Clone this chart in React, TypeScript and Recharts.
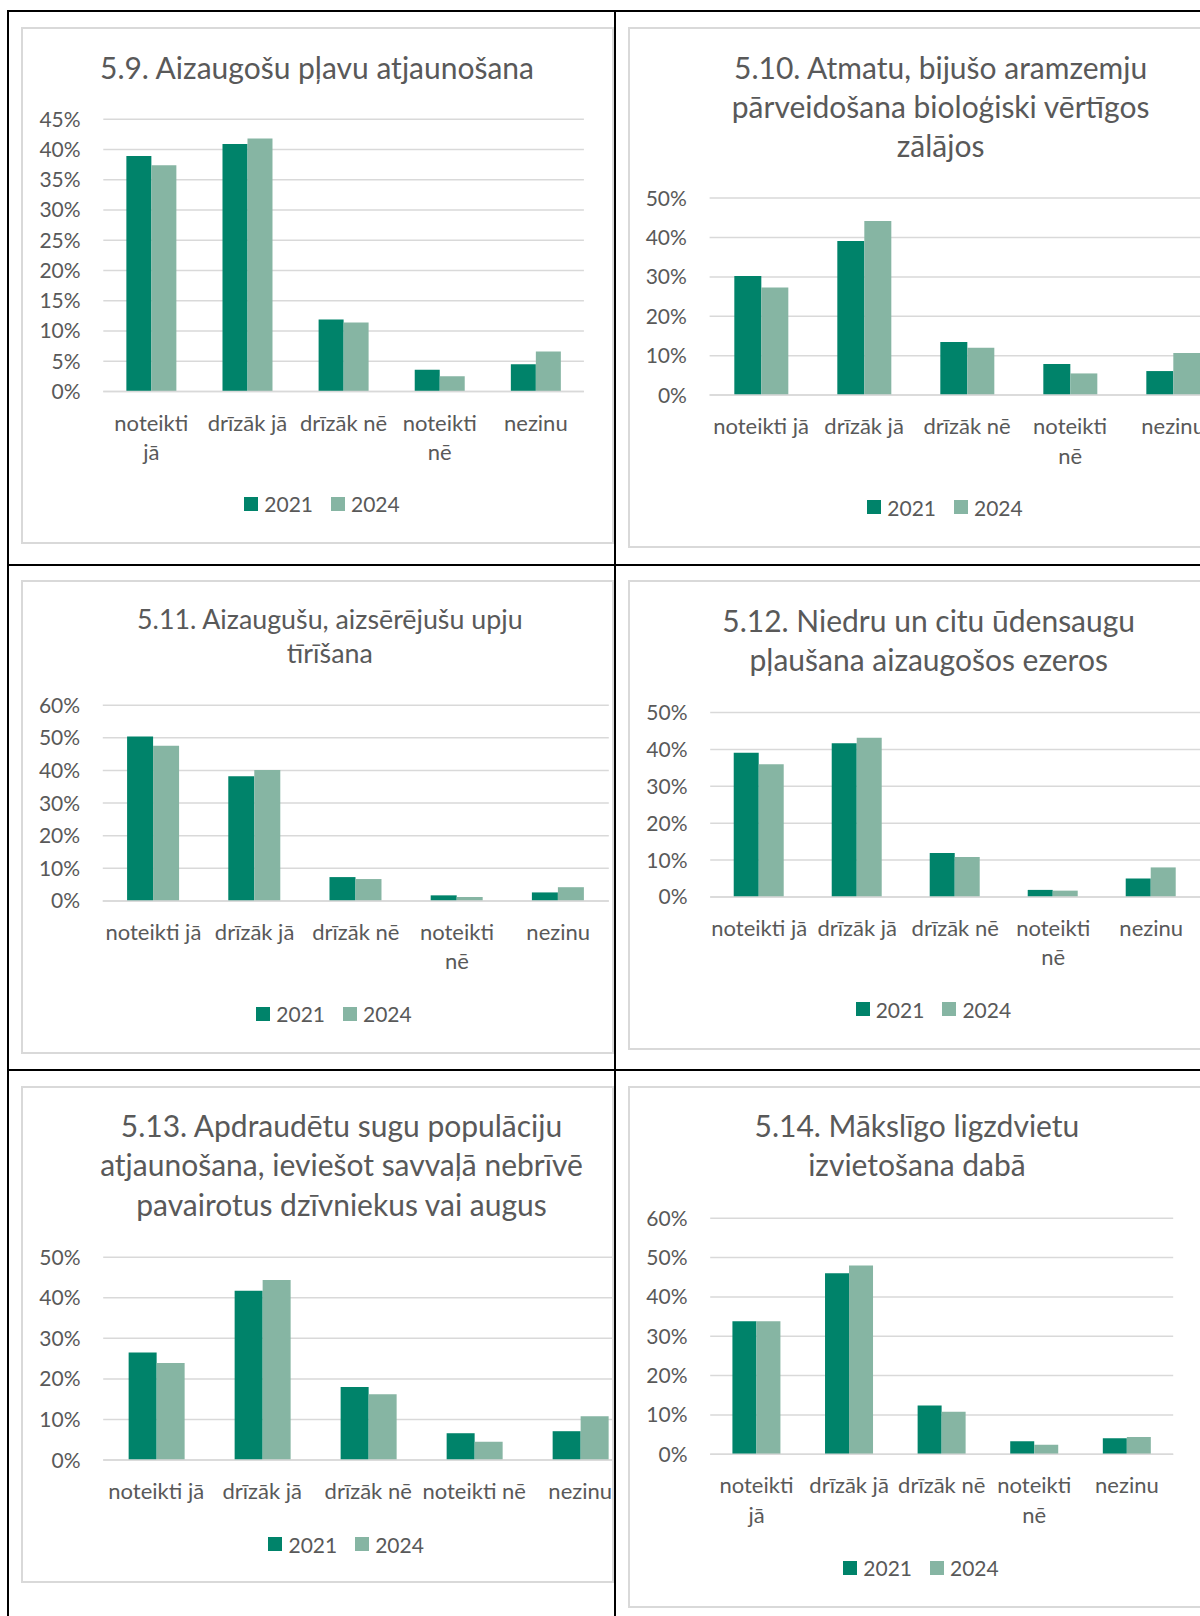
import React from 'react';
import { BarChart, Bar, XAxis, YAxis, CartesianGrid, Legend } from 'recharts';

const FONT = 'Lato, "Open Sans", sans-serif';
const TEXT = '#595959';
const C2021 = '#00836A';
const C2024 = '#86B5A3';
const GRID = '#D9D9D9';

// ---------- data ----------
const categories = ['noteikti jā', 'drīzāk jā', 'drīzāk nē', 'noteikti nē', 'nezinu'];
const seriesNames = ['2021', '2024'];

const title59 = ['5.9. Aizaugošu pļavu atjaunošana'];
const labels59 = [['noteikti', 'jā'], ['drīzāk jā'], ['drīzāk nē'], ['noteikti', 'nē'], ['nezinu']];
const v2021_59 = [38.9, 40.9, 11.9, 3.6, 4.5];
const v2024_59 = [37.4, 41.8, 11.4, 2.5, 6.6];
const ticks59 = [0, 5, 10, 15, 20, 25, 30, 35, 40, 45];

const title510 = ['5.10. Atmatu, bijušo aramzemju', 'pārveidošana bioloģiski vērtīgos', 'zālājos'];
const labels510 = [['noteikti jā'], ['drīzāk jā'], ['drīzāk nē'], ['noteikti', 'nē'], ['nezinu']];
const v2021_510 = [30.2, 39.1, 13.5, 7.9, 6.1];
const v2024_510 = [27.3, 44.2, 12.0, 5.5, 10.7];
const ticks510 = [0, 10, 20, 30, 40, 50];

const title511 = ['5.11. Aizaugušu, aizsērējušu upju', 'tīrīšana'];
const labels511 = [['noteikti jā'], ['drīzāk jā'], ['drīzāk nē'], ['noteikti', 'nē'], ['nezinu']];
const v2021_511 = [50.4, 38.2, 7.3, 1.7, 2.6];
const v2024_511 = [47.6, 40.1, 6.7, 1.2, 4.2];
const ticks511 = [0, 10, 20, 30, 40, 50, 60];

const title512 = ['5.12. Niedru un citu ūdensaugu', 'pļaušana aizaugošos ezeros'];
const labels512 = [['noteikti jā'], ['drīzāk jā'], ['drīzāk nē'], ['noteikti', 'nē'], ['nezinu']];
const v2021_512 = [39.1, 41.7, 11.9, 1.9, 5.0];
const v2024_512 = [36.0, 43.2, 10.8, 1.7, 8.0];
const ticks512 = [0, 10, 20, 30, 40, 50];

const title513 = ['5.13. Apdraudētu sugu populāciju', 'atjaunošana, ieviešot savvaļā nebrīvē', 'pavairotus dzīvniekus vai augus'];
const labels513 = [['noteikti jā'], ['drīzāk jā'], ['drīzāk nē'], ['noteikti nē'], ['nezinu']];
const v2021_513 = [26.5, 41.7, 18.0, 6.6, 7.1];
const v2024_513 = [23.9, 44.4, 16.2, 4.5, 10.8];
const ticks513 = [0, 10, 20, 30, 40, 50];

const title514 = ['5.14. Mākslīgo ligzdvietu', 'izvietošana dabā'];
const labels514 = [['noteikti', 'jā'], ['drīzāk jā'], ['drīzāk nē'], ['noteikti', 'nē'], ['nezinu']];
const v2021_514 = [33.8, 46.0, 12.4, 3.3, 4.1];
const v2024_514 = [33.8, 48.0, 10.8, 2.4, 4.4];
const ticks514 = [0, 10, 20, 30, 40, 50, 60];

const buildRows = (a: number[], b: number[]) =>
  categories.map((c, i) => ({ cat: c, y2021: a[i], y2024: b[i] }));

// ---------- layout (page coordinates) ----------
type Rect = { x: number; y: number; w: number; h: number };
type PanelCfg = {
  cell: Rect;
  frame: Rect;
  chart: Rect;
  plot: { l: number; r: number; t: number; b: number };
  titleCx: number;
  titleY: number;
  titleSize: number;
  titleLH: number;
  legendCx: number;
  legendCy: number;
  title: string[];
  labels: string[][];
  a: number[];
  b: number[];
  ticks: number[];
};

const TICK_SIZE = 21;
const CAT_SIZE = 22;
const LEG_SIZE = 21;

const panels: PanelCfg[] = [
  {
    cell: { x: 9, y: 12, w: 605, h: 552 },
    frame: { x: 21, y: 27, w: 593, h: 517 },
    chart: { x: 22, y: 28, w: 592, h: 516 },
    plot: { l: 103.3, r: 583.9, t: 119.2, b: 391.5 },
    titleCx: 317, titleY: 67, titleSize: 30, titleLH: 39,
    legendCx: 322, legendCy: 503.5,
    title: title59, labels: labels59, a: v2021_59, b: v2024_59, ticks: ticks59,
  },
  {
    cell: { x: 616, y: 12, w: 584, h: 552 },
    frame: { x: 628, y: 27, w: 640, h: 521 },
    chart: { x: 629, y: 28, w: 640, h: 520 },
    plot: { l: 709.6, r: 1224.6, t: 198.1, b: 395.1 },
    titleCx: 940.6, titleY: 67, titleSize: 30, titleLH: 39,
    legendCx: 945, legendCy: 507.2,
    title: title510, labels: labels510, a: v2021_510, b: v2024_510, ticks: ticks510,
  },
  {
    cell: { x: 9, y: 566, w: 605, h: 503 },
    frame: { x: 21, y: 580, w: 593, h: 474 },
    chart: { x: 22, y: 581, w: 592, h: 473 },
    plot: { l: 102.8, r: 608.8, t: 705.2, b: 900.9 },
    titleCx: 329.8, titleY: 620, titleSize: 26.8, titleLH: 33.8,
    legendCx: 334, legendCy: 1013.8,
    title: title511, labels: labels511, a: v2021_511, b: v2024_511, ticks: ticks511,
  },
  {
    cell: { x: 616, y: 566, w: 584, h: 503 },
    frame: { x: 628, y: 580, w: 640, h: 470 },
    chart: { x: 629, y: 581, w: 620, h: 469 },
    plot: { l: 710.2, r: 1200.2, t: 712.6, b: 896.9 },
    titleCx: 928.7, titleY: 620.7, titleSize: 30, titleLH: 39,
    legendCx: 933.4, legendCy: 1009.4,
    title: title512, labels: labels512, a: v2021_512, b: v2024_512, ticks: ticks512,
  },
  {
    cell: { x: 9, y: 1071, w: 605, h: 545 },
    frame: { x: 21, y: 1086, w: 593, h: 497 },
    chart: { x: 22, y: 1087, w: 640, h: 495 },
    plot: { l: 103.2, r: 633.2, t: 1257.2, b: 1460 },
    titleCx: 341.5, titleY: 1125.4, titleSize: 30, titleLH: 39.4,
    legendCx: 346.2, legendCy: 1544.1,
    title: title513, labels: labels513, a: v2021_513, b: v2024_513, ticks: ticks513,
  },
  {
    cell: { x: 616, y: 1071, w: 584, h: 545 },
    frame: { x: 628, y: 1086, w: 640, h: 522 },
    chart: { x: 629, y: 1087, w: 600, h: 520 },
    plot: { l: 710.2, r: 1173.2, t: 1218.2, b: 1454.3 },
    titleCx: 916.9, titleY: 1125.4, titleSize: 30, titleLH: 39.4,
    legendCx: 921, legendCy: 1567.9,
    title: title514, labels: labels514, a: v2021_514, b: v2024_514, ticks: ticks514,
  },
];

const X_AXIS_H = 60;

const makeXTick = (labels: string[][]) => (props: any) => {
  const { x, y, index } = props;
  const lines = labels[index] || [String(props.payload?.value ?? '')];
  return (
    <text x={x} y={y} textAnchor="middle" fill={TEXT} fontFamily={FONT} fontSize={CAT_SIZE} dominantBaseline="central">
      {lines.map((l, i) => (
        <tspan key={i} x={x} dy={i === 0 ? 30 : 29.5}>
          {l}
        </tspan>
      ))}
    </text>
  );
};

const YTick = (props: any) => (
  <text x={props.x} y={props.y - 1} textAnchor="end" fill={TEXT} fontFamily={FONT} fontSize={TICK_SIZE} dominantBaseline="central">
    {`${props.payload.value}%`}
  </text>
);

const LegendContent = (props: any) => {
  const items = (props.payload && props.payload.length
    ? props.payload.map((p: any) => ({ value: p.value, color: p.color }))
    : seriesNames.map((n, i) => ({ value: n, color: i === 0 ? C2021 : C2024 })));
  return (
    <div style={{ display: 'flex', justifyContent: 'center', alignItems: 'center', height: 30, fontFamily: FONT, fontSize: LEG_SIZE, color: TEXT }}>
      {items.map((it: any, i: number) => (
        <div key={it.value} style={{ display: 'flex', alignItems: 'center', marginLeft: i ? 18 : 0 }}>
          <span style={{ display: 'inline-block', width: 14, height: 14, background: it.color, marginRight: 6 }} />
          <span>{it.value}</span>
        </div>
      ))}
    </div>
  );
};

const Panel = ({ p }: { p: PanelCfg }) => {
  const { cell, frame, chart, plot } = p;
  const rows = buildRows(p.a, p.b);
  const yAxisW = plot.l - chart.x;
  const margin = {
    top: plot.t - chart.y,
    left: 0,
    right: chart.x + chart.w - plot.r,
    bottom: chart.y + chart.h - plot.b - X_AXIS_H,
  };
  const max = p.ticks[p.ticks.length - 1];
  return (
    <div style={{ position: 'absolute', left: cell.x, top: cell.y, width: cell.w, height: cell.h, overflow: 'hidden' }}>
      <div
        style={{
          position: 'absolute',
          left: frame.x - cell.x,
          top: frame.y - cell.y,
          width: frame.w,
          height: frame.h,
          border: `2px solid ${GRID}`,
          boxSizing: 'border-box',
        }}
      />
      <div
        style={{
          position: 'absolute',
          left: p.titleCx - 400 - cell.x,
          top: p.titleY - p.titleLH / 2 - cell.y,
          width: 800,
          textAlign: 'center',
          fontFamily: FONT,
          fontSize: p.titleSize,
          lineHeight: `${p.titleLH}px`,
          color: TEXT,
          whiteSpace: 'nowrap',
        }}
      >
        {p.title.map((t, i) => (
          <div key={i}>{t}</div>
        ))}
      </div>
      <div style={{ position: 'absolute', left: chart.x - cell.x, top: chart.y - cell.y }}>
        <BarChart width={chart.w} height={chart.h} data={rows} margin={margin} barCategoryGap="24%" barGap={0}>
          <CartesianGrid vertical={false} stroke={GRID} strokeWidth={1.5} />
          <XAxis
            dataKey="cat"
            height={X_AXIS_H}
            interval={0}
            tickSize={0}
            tickMargin={0}
            axisLine={{ stroke: GRID, strokeWidth: 1.5 }}
            tickLine={false}
            tick={makeXTick(p.labels)}
          />
          <YAxis
            width={yAxisW}
            domain={[0, max]}
            ticks={p.ticks}
            interval={0}
            axisLine={false}
            tickLine={false}
            tickSize={0}
            tickMargin={22.7}
            tick={YTick}
            allowDataOverflow
          />
          <Legend
            layout="horizontal"
            verticalAlign="middle"
            align="center"
            content={LegendContent}
            wrapperStyle={{ left: p.legendCx - chart.x - 150, top: p.legendCy - chart.y - 15, width: 300, height: 30 }}
          />
          <Bar dataKey="y2021" name={seriesNames[0]} fill={C2021} isAnimationActive={false} />
          <Bar dataKey="y2024" name={seriesNames[1]} fill={C2024} isAnimationActive={false} />
        </BarChart>
      </div>
    </div>
  );
};

const Line = ({ x, y, w, h }: Rect) => (
  <div style={{ position: 'absolute', left: x, top: y, width: w, height: h, background: '#000' }} />
);

export default function App() {
  return (
    <div style={{ position: 'absolute', left: 0, top: 0, width: 1200, height: 1616, background: '#fff', overflow: 'hidden' }}>
      {panels.map((p, i) => (
        <Panel key={i} p={p} />
      ))}
      <Line x={7} y={10} w={1193} h={2} />
      <Line x={7} y={10} w={2} h={1606} />
      <Line x={614} y={10} w={2} h={1606} />
      <Line x={7} y={564} w={1193} h={2} />
      <Line x={7} y={1069} w={1193} h={2} />
    </div>
  );
}
